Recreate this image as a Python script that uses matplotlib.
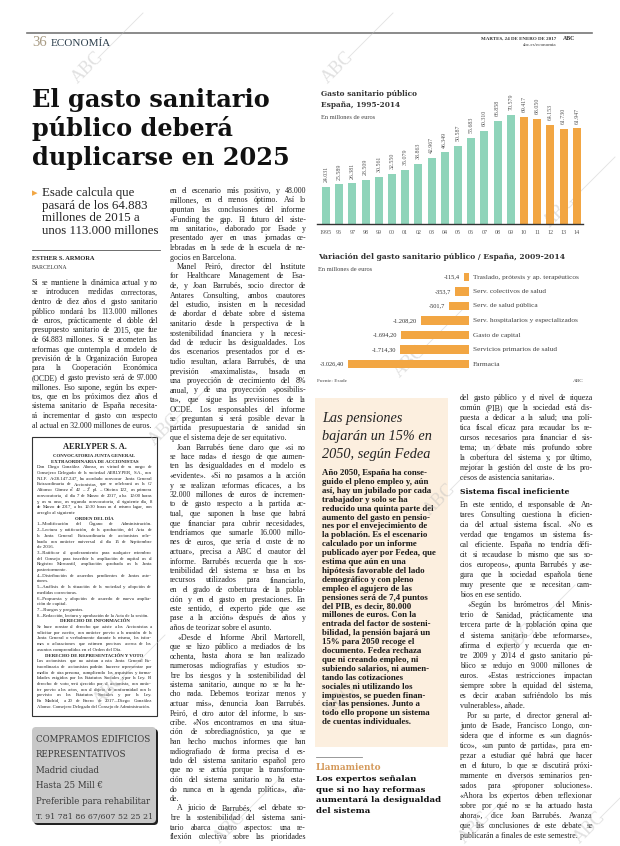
import matplotlib
matplotlib.use('Agg')
import matplotlib.pyplot as plt
from matplotlib.font_manager import FontProperties
from matplotlib.patches import Rectangle, FancyBboxPatch
import numpy as np

# datos del grafico de barras
anios = ['1995', '96', '97', '98', '99', '00', '01', '02', '03', '04',
         '05', '06', '07', '08', '09', '10', '11', '12', '13', '14']
gasto = [24031, 25589, 26381, 28509, 30561, 32550, 35079, 38863, 42967, 46349,
         50587, 55683, 60310, 66858, 70579, 69417, 68050, 64153, 61730, 61947]

# datos de la variacion 2009-2014
partidas = ['Traslado, prótesis y ap. terapéuticos', 'Serv. colectivos de salud',
            'Serv. de salud pública', 'Serv. hospitalarios y especializados',
            'Gasto de capital', 'Servicios primarios de salud', 'Farmacia']
variacion = [-115.4, -353.7, -501.7, -1208.20, -1694.20, -1714.30, -3026.40]

VERDE = '#8fd4ba'
NARANJA = '#f2a643'

# textos del articulo
col1 = ['Si se mantiene la dinámica actual y no',
        'se introducen medidas correctoras,',
        'dentro de diez años el gasto sanitario',
        'público rondará los 113.000 millones',
        'de euros, prácticamente el doble del',
        'presupuesto sanitario de 2015, que fue',
        'de 64.883 millones. Si se acometen las',
        'reformas que contempla el modelo de',
        'previsión de la Organización Europea',
        'para la Cooperación Económica',
        '(OCDE) el gasto previsto será de 97.000',
        'millones. Eso supone, según los exper-',
        'tos, que en los próximos diez años el',
        'sistema sanitario de España necesita-',
        'rá incrementar el gasto con respecto',
        'al actual en 32.000 millones de euros.']

col2 = ['en el escenario más positivo, y 48.000',
        'millones, en el menos óptimo. Así lo',
        'apuntan las conclusiones del informe',
        '«Funding the gap. El futuro del siste-',
        'ma sanitario», elaborado por Esade y',
        'presentado ayer en unas jornadas ce-',
        'lebradas en la sede de la escuela de ne-',
        'gocios en Barcelona.',
        '>Manel Peiró, director del Institute',
        'for Healthcare Management de Esa-',
        'de, y Joan Barrubés, socio director de',
        'Antares Consulting, ambos coautores',
        'del estudio, insisten en la necesidad',
        'de abordar el debate sobre el sistema',
        'sanitario desde la perspectiva de la',
        'sostenibilidad financiera y la necesi-',
        'dad de reducir las desigualdades. Los',
        'dos escenarios presentados por el es-',
        'tudio resultan, aclara Barrubés, de una',
        'previsión «maximalista», basada en',
        'una proyección de crecimiento del 8%',
        'anual, y de una proyección «posibilis-',
        'ta», que sigue las previsiones de la',
        'OCDE. Los responsables del informe',
        'se preguntan si será posible elevar la',
        'partida presupuestaria de sanidad sin',
        'que el sistema deje de ser equitativo.',
        '>Joan Barrubés tiene claro que «si no',
        'se hace nada» el riesgo de que aumen-',
        'ten las desigualdades en el modelo es',
        '«evidente». «Si no pasamos a la acción',
        'y se realizan reformas eficaces, a los',
        '32.000 millones de euros de incremen-',
        'to de gasto respecto a la partida ac-',
        'tual, que suponen la base que habrá',
        'que financiar para cubrir necesidades,',
        'tendríamos que sumarle 16.000 millo-',
        'nes de euros, que sería el coste de no',
        'actuar», precisa a ABC el coautor del',
        'informe. Barrubés recuerda que la sos-',
        'tenibilidad del sistema se basa en los',
        'recursos utilizados para financiarlo,',
        'en el grado de cobertura de la pobla-',
        'ción y en el gasto en prestaciones. En',
        'este sentido, el experto pide que «se',
        'pase a la acción» después de años y',
        'años de teorizar sobre el asunto.',
        '>«Desde el Informe Abril Martorell,',
        'que se hizo público a mediados de los',
        'ochenta, hasta ahora se han realizado',
        'numerosas radiografías y estudios so-',
        'bre los riesgos y la sostenibilidad del',
        'sistema sanitario, aunque no se ha he-',
        'cho nada. Debemos teorizar menos y',
        'actuar más», denuncia Joan Barrubés.',
        'Peiró, el otro autor del informe, lo sus-',
        'cribe. «Nos encontramos en una situa-',
        'ción de sobrediagnóstico, ya que se',
        'han hecho muchos informes que han',
        'radiografiado de forma precisa el es-',
        'tado del sistema sanitario español pero',
        'que no se actúa porque la transforma-',
        'ción del sistema sanitario no ha esta-',
        'do nunca en la agenda política», aña-',
        'de.',
        '>A juicio de Barrubés, «el debate so-',
        'bre la sostenibilidad del sistema sani-',
        'tario abarca cuatro aspectos: una re-',
        'flexión colectiva sobre las prioridades']

col4a = ['del gasto público y el nivel de riqueza',
         'común (PIB) que la sociedad está dis-',
         'puesta a dedicar a la salud; una polí-',
         'tica fiscal eficaz para recaudar los re-',
         'cursos necesarios para financiar el sis-',
         'tema; un debate más profundo sobre',
         'la cobertura del sistema y, por último,',
         'mejorar la gestión del coste de los pro-',
         'cesos de asistencia sanitaria».']

col4b = ['En este sentido, el responsable de An-',
         'tares Consulting cuestiona la eficien-',
         'cia del actual sistema fiscal. «No es',
         'verdad que tengamos un sistema fis-',
         'cal eficiente. España no tendría défi-',
         'cit si recaudase lo mismo que sus so-',
         'cios europeos», apunta Barrubés y ase-',
         'gura que la sociedad española tiene',
         'muy presente que se necesitan cam-',
         'bios en ese sentido.',
         '>«Según los barómetros del Minis-',
         'terio de Sanidad, prácticamente una',
         'tercera parte de la población opina que',
         'el sistema sanitario debe reformarse»,',
         'afirma el experto y recuerda que en-',
         'tre 2009 y 2014 el gasto sanitario pú-',
         'blico se redujo en 9.000 millones de',
         'euros. «Estas restricciones impactan',
         'siempre sobre la equidad del sistema,',
         'es decir acaban sufriéndolo los más',
         'vulnerables», añade.',
         '>Por su parte, el director general ad-',
         'junto de Esade, Francisco Longo, con-',
         'sidera que el informe es «un diagnós-',
         'tico», «un punto de partida», para em-',
         'pezar a estudiar qué habrá que hacer',
         'en el futuro, lo que se discutirá próxi-',
         'mamente en diversos seminarios pen-',
         'sados para «proponer soluciones».',
         '«Ahora los expertos deben reflexionar',
         'sobre por qué no se ha actuado hasta',
         'ahora», dice Joan Barrubés. Avanza',
         'que las conclusiones de este debate se',
         'publicarán a finales de este semestre.']

pensiones = ['Año 2050, España ha conse-',
             'guido el pleno empleo y, aún',
             'así, hay un jubilado por cada',
             'trabajador y solo se ha',
             'reducido una quinta parte del',
             'aumento del gasto en pensio-',
             'nes por el envejecimiento de',
             'la población. Es el escenario',
             'calculado por un informe',
             'publicado ayer por Fedea, que',
             'estima que aún en una',
             'hipótesis favorable del lado',
             'demográfico y con pleno',
             'empleo el agujero de las',
             'pensiones será de 7,4 puntos',
             'del PIB, es decir, 80.000',
             'millones de euros. Con la',
             'entrada del factor de sosteni-',
             'bilidad, la pensión bajará un',
             '15% para 2050 recoge el',
             'documento. Fedea rechaza',
             'que ni creando empleo, ni',
             'subiendo salarios, ni aumen-',
             'tando las cotizaciones',
             'sociales ni utilizando los',
             'impuestos, se pueden finan-',
             'ciar las pensiones. Junto a',
             'todo ello propone un sistema',
             'de cuentas individuales.']

junta = ['#AERLYPER S. A.',
         '#CONVOCATORIA JUNTA GENERAL',
         '#EXTRAORDINARIA DE ACCIONISTAS',
         'Don Diego González Alonso, en virtud de su cargo de',
         'Consejero Delegado de la sociedad AERLYPER, S.A., con',
         'N.I.F. A-28.147.247, ha acordado convocar Junta General',
         'Extraordinaria de Accionistas, que se celebrará en la C/',
         'Alfonso Gómez nº 42 – 2º pl. – Oficina 122, en primera',
         'convocatoria, el día 7 de Marzo de 2017, a las 12:00 horas',
         'y, en su caso, en segunda convocatoria, el siguiente día, 8',
         'de Marzo de 2017, a las 12:30 horas en el mismo lugar, con',
         'arreglo al siguiente',
         '#ORDEN DEL DÍA',
         '1.–Modificación del Órgano de Administración.',
         '2.–Lectura y ratificación, de la aprobación, del Acta de',
         'la Junta General Extraordinaria de accionistas cele-',
         'brada con carácter universal el día 15 de Septiembre',
         'de 2016.',
         '3.–Ratificar el apoderamiento para cualquier miembro',
         'del Consejo para inscribir la ampliación de capital en el',
         'Registro Mercantil, ampliación aprobada en la Junta',
         'posteriormente.',
         '4.–Distribución de acuerdos pendientes de Juntas ante-',
         'riores.',
         '5.–Análisis de la situación de la sociedad y adopción de',
         'medidas correctoras.',
         '6.–Propuesta y adopción de acuerdo de nueva amplia-',
         'ción de capital.',
         '7.–Ruegos y preguntas.',
         '8.–Redacción, lectura y aprobación de la Acta de la sesión.',
         '#DERECHO DE INFORMACIÓN',
         'Se hace constar el derecho que asiste a los Accionistas a',
         'solicitar por escrito, con carácter previo a la reunión de la',
         'Junta General o verbalmente durante la misma, los infor-',
         'mes o aclaraciones que estimen precisos acerca de los',
         'asuntos comprendidos en el Orden del Día.',
         '#DERECHO DE REPRESENTACIÓN Y VOTO',
         'Los accionistas que no asistan a esta Junta General Ex-',
         'traordinaria de accionistas podrán hacerse representar por',
         'medio de otra persona, cumpliendo los requisitos y forma-',
         'lidades exigidos por los Estatutos Sociales y por la Ley. El',
         'derecho de voto, será ejercido por el accionista, con carác-',
         'ter previo a los actos, con el objeto de conformidad con lo',
         'previsto en los Estatutos Sociales y por la Ley.',
         'En Madrid, a 20 de Enero de 2017.–Diego González',
         'Alonso. Consejero Delegado del Consejo de Administración.']

anuncio = ['COMPRAMOS EDIFICIOS', 'REPRESENTATIVOS', 'Madrid ciudad', 'Hasta 25 Mill €',
           'Preferible para rehabilitar', 'T. 91 781 86 67/607 52 25 21']

# ---------------------------------------------------------------
fig = plt.figure(figsize=(6.2, 8.46), dpi=100)
pg = fig.add_axes([0, 0, 1, 1])
pg.set_xlim(0, 620)
pg.set_ylim(846, 0)
pg.axis('off')
R = fig.canvas.get_renderer()

SERIF = 'Liberation Serif'
SLAB = 'DejaVu Serif'


def tw(s, fp):
    return R.get_text_width_height_descent(s, fp, ismath=False)[0]


def fit(s, width, **kw):
    fp = FontProperties(size=10, **kw)
    return 10 * width / tw(s, fp)


def columna(x, y, w, lineas, size, lead, color='#222222', family=SERIF,
            weight='normal', justify=True, indent=7, sigue=False):
    # sigue=True: el parrafo continua despues del bloque (justifica la ultima linea)
    fp = FontProperties(family=family, size=size, weight=weight)
    sp = tw('a a', fp) - tw('aa', fp)
    for k, ln in enumerate(lineas):
        yy = y + k * lead
        x0 = x
        if ln.startswith('>'):
            ln = ln[1:]
            x0 = x + indent
        if k + 1 < len(lineas):
            fin = lineas[k + 1].startswith('>')
        else:
            fin = not sigue
        words = ln.split()
        f = fp
        nat = tw(ln, f)
        if nat > x + w - x0:
            f = FontProperties(family=family, size=size * (x + w - x0) / nat * 0.99,
                               weight=weight)
        if justify and not fin and len(words) > 1 and nat > 0.75 * (x + w - x0):
            ws = [tw(wd, f) for wd in words]
            gap = max((x + w - x0 - sum(ws)) / (len(words) - 1), sp * 0.4)
            xx = x0
            for wd, ww in zip(words, ws):
                pg.text(xx, yy, wd, fontproperties=f, color=color, va='baseline')
                xx += ww + gap
        else:
            pg.text(x0, yy, ln, fontproperties=f, color=color, va='baseline')


# cabecera
pg.plot([27, 592], [33, 33], color='#777777', lw=1.2)
pg.text(32, 46, '36', family=SERIF, fontsize=10.5, color='#a89b83', va='baseline')
pg.text(51, 46, 'ECONOMÍA', family=SERIF, fontsize=fit('ECONOMÍA', 60, family=SERIF),
        color='#2c3e4c', va='baseline')
pg.text(556, 40, 'MARTES, 24 DE ENERO DE 2017', family=SERIF, fontsize=3.6,
        weight='bold', color='#333333', ha='right', va='baseline')
pg.text(556, 46, 'abc.es/economia', family=SERIF, fontsize=3.6, color='#333333',
        ha='right', va='baseline')
pg.text(563, 40, 'ABC', family=SERIF, fontsize=4.2, weight='bold', color='#333333',
        va='baseline')

# titular
hs = fit('duplicarse en 2025', 257, family=SLAB, weight='bold')
for yy, t in zip([107, 136, 165], ['El gasto sanitario', 'público deberá',
                                   'duplicarse en 2025']):
    pg.text(32, yy, t, family=SLAB, weight='bold', fontsize=hs, color='#111111',
            va='baseline')

# entradilla
ss = fit('unos 113.000 millones', 116, family=SERIF)
pg.text(32, 196, '▸', family='DejaVu Sans', fontsize=8, color=NARANJA, va='baseline')
for i, t in enumerate(['Esade calcula que', 'pasará de los 64.883',
                       'millones de 2015 a', 'unos 113.000 millones']):
    pg.text(42, 196 + i * 12.6, t, family=SERIF, fontsize=ss, color='#222222',
            va='baseline')
pg.plot([32, 160], [250, 250], color='#555555', lw=0.6)
pg.text(32, 260, 'ESTHER S. ARMORA', family=SERIF, fontsize=4.6, weight='bold',
        color='#222222', va='baseline')
pg.text(32, 269, 'BARCELONA', family=SERIF, fontsize=4.2, color='#333333', va='baseline')

# columnas de texto
columna(32, 285, 126, col1, 5.7, 9.5)
columna(170, 193, 136, col2, 5.7, 9.5, sigue=True)
L4 = (838 - 400 - 27) / (len(col4a) + len(col4b) - 2)
columna(460, 400, 133, col4a, 5.7, L4)
ysub = 400 + (len(col4a) - 1) * L4 + 14
pg.text(460, ysub, 'Sistema fiscal ineficiente', family=SLAB, weight='bold',
        fontsize=fit('Sistema fiscal ineficiente', 108, family=SLAB, weight='bold'),
        color='#111111', va='baseline')
columna(460, ysub + 13, 133, col4b, 5.7, L4)

# anuncio junta
pg.add_patch(Rectangle((32, 437), 125, 279, fill=False, ec='#333333', lw=0.8))
yj = 449
for k, ln in enumerate(junta):
    if ln.startswith('#'):
        big = ln == '#AERLYPER S. A.'
        pg.text(94.5, yj, ln[1:], family=SERIF, weight='bold',
                fontsize=6 if big else 3.5, ha='center', va='baseline', color='#222222')
        yj += 8 if big else 5.7
    else:
        nxt = junta[k + 1] if k + 1 < len(junta) else '#'
        columna(37, yj, 115, [ln], 3.5, 5.7, sigue=not nxt.startswith('#'))
        yj += 5.7

# anuncio edificios
pg.add_patch(FancyBboxPatch((34, 729), 124, 96, boxstyle='round,pad=0,rounding_size=4',
                            fc='#222222', ec='none'))
pg.add_patch(FancyBboxPatch((32, 727), 124, 96, boxstyle='round,pad=0,rounding_size=4',
                            fc='#c8c8c8', ec='none'))
af = fit('T. 91 781 86 67/607 52 25 21', 116, family='DejaVu Serif')
for i, t in enumerate(anuncio):
    fs = min(af * 1.1, fit(t, 116, family='DejaVu Serif'))
    pg.text(36, 742 + i * 15.4, t, family='DejaVu Serif', fontsize=fs,
            color='#3a3a3a', va='baseline')

# recuadro pensiones
pg.add_patch(Rectangle((315, 398), 133, 349, fc='#fcefdf', ec='none'))
ts = fit('bajarán un 15% en', 110, family=SERIF, style='italic')
for i, t in enumerate(['Las pensiones', 'bajarán un 15% en', '2050, según Fedea']):
    pg.text(322, 422 + i * 18, t, family=SERIF, style='italic', fontsize=ts,
            color='#222222', va='baseline')
columna(322, 475, 122, pensiones, 6.3, 8.9, weight='bold', justify=False,
        color='#1a1a1a')

# llamamiento
pg.plot([316, 362], [757, 757], color='#888888', lw=0.6)
pg.text(316, 770, 'Llamamiento', family=SLAB, weight='bold', color='#d4995a',
        fontsize=fit('Llamamiento', 66, family=SLAB, weight='bold'), va='baseline')
ls = fit('aumentará la desigualdad', 124, family=SLAB, weight='bold')
for i, t in enumerate(['Los expertos señalan', 'que si no hay reformas',
                       'aumentará la desigualdad', 'del sistema']):
    pg.text(316, 781 + i * 10.7, t, family=SLAB, weight='bold', fontsize=ls,
            color='#111111', va='baseline')


# grafico 1: barras verticales
def px_axes(l, t, r, b):
    return fig.add_axes([l / 620, 1 - b / 846, (r - l) / 620, (b - t) / 846])


gs = fit('Gasto sanitario público', 97, family=SLAB, weight='bold')
pg.text(321, 96, 'Gasto sanitario público', family=SLAB, weight='bold', fontsize=gs,
        color='#333333', va='baseline')
pg.text(321, 107, 'España, 1995-2014', family=SLAB, weight='bold', fontsize=gs,
        color='#333333', va='baseline')
pg.text(321, 119, 'En millones de euros', family=SERIF, fontsize=4.6, color='#444444',
        va='baseline')

ax = px_axes(317, 100, 583, 224)
x = np.arange(len(anios))
colores = [VERDE] * 15 + [NARANJA] * 5
ax.bar(x, np.array(gasto) / 1000, width=0.6, color=colores)
for i, v in enumerate(gasto):
    ax.text(i, v / 1000 + 3, f'{v:,}'.replace(',', '.'), rotation=90, ha='center',
            va='bottom', family=SERIF, fontsize=4.2, color='#555555')
ax.set_xlim(-0.68, 19.47)
ax.set_ylim(0, 80.26)
ax.set_xticks(x, anios, family=SERIF, fontsize=4.3, color='#555555')
ax.tick_params(axis='x', length=0, pad=4)
ax.set_yticks([])
for s in ['left', 'right', 'top']:
    ax.spines[s].set_visible(False)
ax.spines['bottom'].set_color('#333333')
ax.spines['bottom'].set_linewidth(1.0)
ax.patch.set_alpha(0)

# grafico 2: barras horizontales
pg.text(318, 259, 'Variación del gasto sanitario público / España, 2009-2014',
        family=SLAB, weight='bold', color='#333333', va='baseline',
        fontsize=fit('Variación del gasto sanitario público / España, 2009-2014', 249,
                     family=SLAB, weight='bold'))
pg.text(318, 271, 'En millones de euros', family=SERIF, fontsize=4.6, color='#444444',
        va='baseline')


def etiqueta(v):
    if abs(v) < 1000:
        return f'{v:.1f}'.replace('.', ',')
    return f'{v:,.2f}'.replace(',', 'X').replace('.', ',').replace('X', '.')


bx = px_axes(320, 269.75, 469, 371.25)
y = np.arange(len(partidas))
bx.barh(y, variacion, height=0.57, color=NARANJA)
for i, v in enumerate(variacion):
    bx.text(v - 100, i, etiqueta(v), ha='right', va='center', family=SERIF,
            fontsize=4.6, color='#333333')
    bx.text(100, i, partidas[i], ha='left', va='center', family=SERIF,
            fontsize=5.3, color='#444444')
bx.set_xlim(-(469 - 320) / 0.03998, 0)
bx.set_ylim(6.5, -0.5)
bx.axis('off')
pg.text(317, 382, 'Fuente: Esade', family=SERIF, fontsize=3.8, color='#444444',
        va='baseline')
pg.text(584, 382, 'ABC', family=SERIF, fontsize=3.8, color='#444444', ha='right',
        va='baseline')

# marcas de agua
for wx, wy in [(88, 68), (338, 68), (560, 212), (410, 362), (165, 430), (440, 500),
               (110, 690), (340, 700), (520, 640), (230, 828), (475, 828), (590, 828)]:
    pg.text(wx, wy, 'ABC', family=SERIF, fontsize=13, color='#bdbdbd', alpha=0.45,
            rotation=45, ha='center', va='center')
    pg.plot([wx + 10, wx + 55], [wy - 10, wy - 55], color='#bdbdbd', lw=0.6, alpha=0.45)

fig.savefig('out.png', dpi=100)
